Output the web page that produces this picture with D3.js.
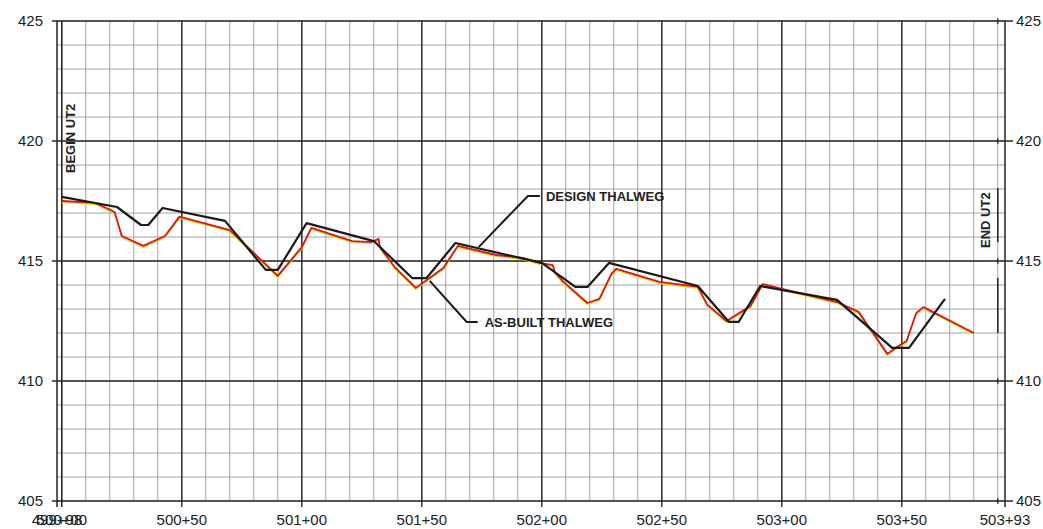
<!DOCTYPE html>
<html>
<head>
<meta charset="utf-8">
<script src="https://cdn.jsdelivr.net/npm/d3@7"></script>
<style>
  html, body { margin: 0; padding: 0; background: #fff; }
  svg { display: block; font-family: "Liberation Sans", Arial, sans-serif; }
</style>
</head>
<body>
<svg id="chart" width="1043" height="529"></svg>
<script>
// ---- data (station in feet, elevation in feet) ----
const designStations = [50000, 50023, 50033, 50036, 50042, 50068, 50085, 50090, 50102, 50130, 50146, 50152, 50164, 50200, 50214, 50219, 50228, 50265, 50278, 50282, 50291, 50323, 50346, 50353, 50368];
const designElev     = [417.67, 417.25, 416.5, 416.5, 417.21, 416.67, 414.63, 414.63, 416.58, 415.83, 414.29, 414.29, 415.75, 414.92, 413.92, 413.92, 414.92, 413.96, 412.46, 412.46, 413.96, 413.38, 411.38, 411.38, 413.42];

const asBuiltStations = [50000, 50014, 50022, 50025, 50034, 50043, 50049, 50070, 50090, 50100, 50104, 50121, 50129, 50132, 50132.5, 50139, 50147.5, 50159, 50165, 50181, 50192, 50199, 50204.6, 50205.4, 50209, 50219, 50224, 50229, 50231, 50249, 50265, 50269, 50277, 50287, 50292, 50323, 50332, 50344, 50348, 50352, 50356, 50359, 50380];
const asBuiltElev     = [417.5, 417.42, 417.04, 416.04, 415.63, 416.04, 416.85, 416.29, 414.38, 415.58, 416.38, 415.83, 415.79, 415.92, 415.58, 414.71, 413.88, 414.71, 415.63, 415.25, 415.13, 414.92, 414.83, 414.54, 414.13, 413.25, 413.42, 414.46, 414.67, 414.13, 413.92, 413.17, 412.5, 413.13, 414.04, 413.29, 412.88, 411.13, 411.42, 411.67, 412.83, 413.08, 412.0];

const stationTicks = [49998, 50000, 50050, 50100, 50150, 50200, 50250, 50300, 50350, 50393];
const elevTicks = [405, 410, 415, 420, 425];
const stationDomain = [49998, 50393];
const elevDomain = [405, 425];
const beginStation = 50000, endStation = 50390;

// annotation anchors [station, elevation]
const designLeader  = [[50173.7, 415.58], [50194.2, 417.71], [50199.2, 417.71]];
const asBuiltLeader = [[50153.3, 414.17], [50168.7, 412.46], [50173.3, 412.46]];
const endSegments = [[418.04, 415.79], [414.29, 412.0]];

// ---- scales ----
const svg = d3.select("#chart");
const x = d3.scaleLinear().domain(stationDomain).range([57, 1005]);
const y = d3.scaleLinear().domain(elevDomain).range([501, 21]);

const fmt = s => Math.floor(s / 100) + "+" + String(Math.round(s % 100)).padStart(2, "0");

// ---- grid ----
const minorX = d3.range(50000, 50391, 10);
const minorY = d3.range(405, 425.01, 1);
const g = svg.append("g");
g.selectAll("line.vx").data(minorX).join("line")
  .attr("x1", d => x(d)).attr("x2", d => x(d)).attr("y1", y(425)).attr("y2", y(405))
  .attr("stroke", "#a2a2a2").attr("stroke-width", 1);
g.selectAll("line.hy").data(minorY).join("line")
  .attr("x1", x(stationDomain[0])).attr("x2", x(stationDomain[1])).attr("y1", d => y(d)).attr("y2", d => y(d))
  .attr("stroke", "#a2a2a2").attr("stroke-width", 1);

// major vertical lines
const majorX = stationTicks.slice(2, -1);
g.selectAll("line.mx").data(majorX).join("line")
  .attr("x1", d => x(d)).attr("x2", d => x(d)).attr("y1", y(425)).attr("y2", y(405) + 6)
  .attr("stroke", "#2a2a2a").attr("stroke-width", 1.4);
// major horizontal lines with ticks outside
g.selectAll("line.my").data(elevTicks).join("line")
  .attr("x1", x(stationDomain[0]) - 5).attr("x2", x(stationDomain[1]) + 8).attr("y1", d => y(d)).attr("y2", d => y(d))
  .attr("stroke", "#2a2a2a").attr("stroke-width", 1.4);
// borders
[stationDomain[0], beginStation, stationDomain[1]].forEach(s => {
  g.append("line").attr("x1", x(s)).attr("x2", x(s)).attr("y1", y(425)).attr("y2", y(405) + 6)
    .attr("stroke", "#222").attr("stroke-width", 1.5);
});
// end UT2 segments
endSegments.forEach(([a, b]) => {
  g.append("line").attr("x1", x(endStation)).attr("x2", x(endStation)).attr("y1", y(a)).attr("y2", y(b))
    .attr("stroke", "#222").attr("stroke-width", 1.5);
});
elevTicks.forEach(e => {
  g.append("line").attr("x1", x(endStation)).attr("x2", x(endStation)).attr("y1", y(e) - 3).attr("y2", y(e) + 3)
    .attr("stroke", "#222").attr("stroke-width", 1.2);
});

// ---- axis labels ----
svg.append("g").selectAll("text").data(elevTicks).join("text")
  .attr("x", 43).attr("y", d => y(d)).attr("dy", "0.35em").attr("text-anchor", "end")
  .attr("font-size", 15).attr("fill", "#222").text(d => d);
svg.append("g").selectAll("text").data(elevTicks).join("text")
  .attr("x", 1016).attr("y", d => y(d)).attr("dy", "0.35em").attr("text-anchor", "start")
  .attr("font-size", 15).attr("fill", "#222").text(d => d);
svg.append("g").selectAll("text").data(stationTicks).join("text")
  .attr("x", d => x(d)).attr("y", 525).attr("text-anchor", "middle")
  .attr("font-size", 15).attr("fill", "#222").text(d => fmt(d));

// ---- lines ----
const line = d3.line().x(d => x(d[0])).y(d => y(d[1]));
const design = designStations.map((s, i) => [s, designElev[i]]);
const asBuilt = asBuiltStations.map((s, i) => [s, asBuiltElev[i]]);

svg.append("path").datum(asBuilt).attr("d", line)
  .attr("fill", "none").attr("stroke", "#f2d400").attr("stroke-width", 1.1)
  .attr("stroke-linejoin", "round").attr("transform", "translate(0,1.5)");
svg.append("path").datum(asBuilt).attr("d", line)
  .attr("fill", "none").attr("stroke", "#d4161c").attr("stroke-width", 1.8)
  .attr("stroke-linejoin", "round");
svg.append("path").datum(design).attr("d", line)
  .attr("fill", "none").attr("stroke", "#1a1a1a").attr("stroke-width", 2.2)
  .attr("stroke-linejoin", "round");

// ---- annotations ----
[designLeader, asBuiltLeader].forEach(pts => {
  svg.append("path").datum(pts).attr("d", line)
    .attr("fill", "none").attr("stroke", "#1a1a1a").attr("stroke-width", 2);
});
svg.append("text").attr("x", x(designLeader[2][0]) + 6).attr("y", y(designLeader[2][1])).attr("dy", "0.35em")
  .attr("font-size", 13).attr("font-weight", "bold").attr("fill", "#222").text("DESIGN THALWEG");
svg.append("text").attr("x", x(asBuiltLeader[2][0]) + 7).attr("y", y(asBuiltLeader[2][1])).attr("dy", "0.35em")
  .attr("font-size", 13).attr("font-weight", "bold").attr("fill", "#222").text("AS-BUILT THALWEG");
svg.append("text").attr("transform", `translate(${x(beginStation) + 13},173) rotate(-90)`)
  .attr("font-size", 13).attr("font-weight", "bold").attr("fill", "#222").text("BEGIN UT2");
svg.append("text").attr("transform", `translate(${x(endStation) - 8},248) rotate(-90)`)
  .attr("font-size", 13).attr("font-weight", "bold").attr("fill", "#222").text("END UT2");
</script>
</body>
</html>
